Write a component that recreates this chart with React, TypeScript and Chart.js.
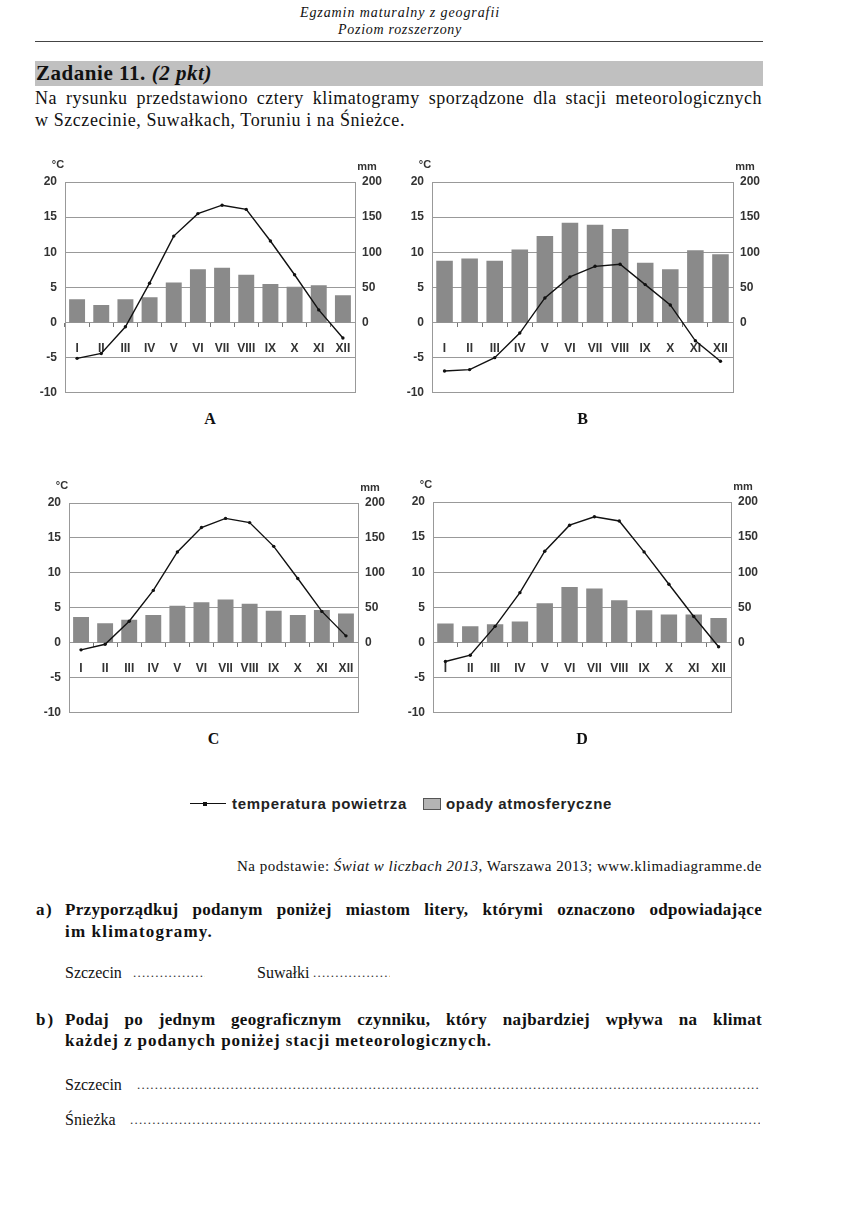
import React, { useEffect, useLayoutEffect, useRef } from "react";
import { Chart, registerables } from "chart.js";

Chart.register(...registerables);

const months = ["I", "II", "III", "IV", "V", "VI", "VII", "VIII", "IX", "X", "XI", "XII"];
const tempTicks = [-10, -5, 0, 5, 10, 15, 20];
const precipTicks = [0, 50, 100, 150, 200];

const tempA = [-5.1, -4.4, -0.6, 5.6, 12.3, 15.5, 16.7, 16.1, 11.6, 6.8, 1.8, -2.2];
const precipA = [33, 25, 33, 36, 57, 76, 78, 68, 55, 51, 53, 39];
const tempB = [-6.9, -6.7, -5.0, -1.5, 3.5, 6.5, 8.0, 8.3, 5.4, 2.5, -2.6, -5.5];
const precipB = [88, 91, 88, 104, 123, 142, 139, 133, 85, 76, 103, 97];
const tempC = [-1.0, -0.2, 3.1, 7.5, 13.0, 16.5, 17.8, 17.2, 13.8, 9.2, 4.5, 1.0];
const precipC = [37, 28, 33, 40, 53, 58, 62, 56, 46, 40, 47, 42];
const tempD = [-2.7, -1.8, 2.3, 7.1, 13.0, 16.7, 17.9, 17.3, 12.9, 8.3, 3.7, -0.6];
const precipD = [27, 23, 26, 30, 56, 79, 77, 60, 46, 40, 40, 35];

const serif = '"Liberation Serif", "Times New Roman", serif';
const sans = '"Liberation Sans", Arial, sans-serif';
const gridColor = "#999";
const tickFont = { family: sans, size: 12, weight: "bold" as const };
const tickColor = "#333";

type ClimProps = {
  plotLeft: number;
  plotRight: number;
  plotTop: number;
  plotBottom: number;
  temp: number[];
  precip: number[];
  letter: string;
};

function Climatogram({ plotLeft, plotRight, plotTop, plotBottom, temp, precip, letter }: ClimProps) {
  const ref = useRef<HTMLCanvasElement>(null);
  const padL = 40, padR = 40, padT = 24, padB = 8;
  const left = plotLeft - padL;
  const top = plotTop - padT;
  const width = Math.round(plotRight - plotLeft + padL + padR);
  const height = Math.round(plotBottom - plotTop + padT + padB);

  useEffect(() => {
    const chart = new Chart(ref.current!, {
      type: "bar",
      data: {
        labels: months,
        datasets: [
          {
            type: "line",
            data: temp,
            yAxisID: "y",
            borderColor: "#111",
            borderWidth: 1.4,
            pointRadius: 1.7,
            pointBackgroundColor: "#111",
            pointBorderWidth: 0,
            tension: 0,
            order: 0,
          } as any,
          {
            type: "bar",
            data: precip,
            yAxisID: "y2",
            backgroundColor: "#8a8a8a",
            barPercentage: 0.66,
            categoryPercentage: 1,
            order: 1,
          } as any,
        ],
      },
      options: {
        responsive: false,
        animation: false,
        layout: { padding: { top: padT, bottom: padB, left: 0, right: 0 } },
        plugins: { legend: { display: false }, tooltip: { enabled: false } },
        scales: {
          x: {
            position: { y: 0 } as any,
            offset: true,
            grid: { offset: true, drawOnChartArea: false, drawTicks: true, tickLength: 4, color: "#777" },
            border: { display: false },
            ticks: { padding: 15, font: tickFont, color: tickColor, maxRotation: 0, autoSkip: false },
          },
          y: {
            position: "left",
            min: -10,
            max: 20,
            afterBuildTicks: (s: any) => {
              s.ticks = tempTicks.map((v) => ({ value: v }));
            },
            afterFit: (s: any) => {
              s.width = padL;
            },
            grid: { color: gridColor, drawTicks: false },
            border: { color: gridColor },
            ticks: { padding: 8, font: tickFont, color: tickColor },
          },
          y2: {
            position: "right",
            min: -100,
            max: 200,
            afterBuildTicks: (s: any) => {
              s.ticks = precipTicks.map((v) => ({ value: v }));
            },
            afterFit: (s: any) => {
              s.width = padR;
            },
            grid: { display: false, drawTicks: false },
            border: { color: gridColor },
            ticks: { padding: 7, font: tickFont, color: tickColor },
          },
        } as any,
      },
    });
    return () => chart.destroy();
  }, []);

  return (
    <>
      <canvas
        ref={ref}
        width={width}
        height={height}
        style={{ position: "absolute", left, top, width, height }}
      />
      <div style={{ position: "absolute", left: plotLeft - 20, width: 26, top: plotTop - 24, textAlign: "center", fontFamily: sans, fontSize: 11, fontWeight: "bold", lineHeight: "13px", color: "#333" }}>°C</div>
      <div style={{ position: "absolute", left: plotRight - 2, width: 28, top: plotTop - 22, textAlign: "center", fontFamily: sans, fontSize: 11, fontWeight: "bold", lineHeight: "13px", color: "#333" }}>mm</div>
      <div style={{ position: "absolute", left: (plotLeft + plotRight) / 2 - 20, width: 40, top: plotBottom + 9, textAlign: "center", fontFamily: serif, fontSize: 16, fontWeight: "bold", lineHeight: "19px", color: "#111" }}>{letter}</div>
    </>
  );
}

type FitProps = { x: number; y: number; w: number; size: number; style?: React.CSSProperties; children: React.ReactNode };

function Fit({ x, y, w, size, style, children }: FitProps) {
  const ref = useRef<HTMLDivElement>(null);
  useLayoutEffect(() => {
    const el = ref.current!;
    el.style.letterSpacing = "0px";
    const natural = el.getBoundingClientRect().width;
    const n = (el.textContent || "").length;
    if (n > 0) el.style.letterSpacing = (w - natural) / n + "px";
  }, []);
  return (
    <div
      ref={ref}
      style={{ position: "absolute", left: x, top: y - size * 0.6, whiteSpace: "nowrap", fontSize: size, lineHeight: size * 1.2 + "px", ...style }}
    >
      {children}
    </div>
  );
}

type JustProps = { x: number; y: number; w: number; size: number; spacing?: number; style?: React.CSSProperties; children: React.ReactNode };

function Just({ x, y, w, size, spacing = 0, style, children }: JustProps) {
  return (
    <div
      style={{
        position: "absolute",
        left: x,
        top: y - size * 0.6,
        width: w,
        height: size * 1.2,
        overflow: "hidden",
        fontSize: size,
        lineHeight: size * 1.2 + "px",
        textAlign: "justify",
        textAlignLast: "justify",
        letterSpacing: spacing,
        ...style,
      }}
    >
      {children}
    </div>
  );
}

function Leader({ x, y, label, labelW, end, size }: { x: number; y: number; label: string; labelW: number; end: number; size: number }) {
  return (
    <div style={{ position: "absolute", left: x, top: y - size * 0.6, width: end - x, display: "flex", fontSize: size, lineHeight: size * 1.2 + "px", whiteSpace: "nowrap", overflow: "hidden" }}>
      <span style={{ display: "inline-block", width: labelW }}>{label}</span>
      <span style={{ flex: 1, overflow: "hidden", letterSpacing: 1.2, fontSize: size - 3, color: "#333" }}>{".".repeat(300)}</span>
    </div>
  );
}

export default function App() {
  return (
    <div style={{ position: "absolute", left: 0, top: 0, width: 852, height: 1208, background: "#fff", overflow: "hidden", fontFamily: serif, color: "#111" }}>
      <Fit x={300} y={13} w={200} size={14} style={{ fontStyle: "italic" }}>Egzamin maturalny z geografii</Fit>
      <Fit x={338} y={30} w={124} size={14} style={{ fontStyle: "italic" }}>Poziom rozszerzony</Fit>
      <div style={{ position: "absolute", left: 35, top: 41, width: 728, height: 1, background: "#444" }} />
      <div style={{ position: "absolute", left: 35, top: 61, width: 728, height: 25, background: "#c0c0c0" }} />
      <Fit x={36} y={74} w={176} size={21} style={{ fontWeight: "bold" }}>
        Zadanie 11. <i>(2 pkt)</i>
      </Fit>
      <Just x={35} y={99} w={727} size={18} spacing={0.5}>
        Na rysunku przedstawiono cztery klimatogramy sporządzone dla stacji meteorologicznych
      </Just>
      <Fit x={35} y={121} w={370} size={18}>w Szczecinie, Suwałkach, Toruniu i na Śnieżce.</Fit>

      <Climatogram plotLeft={65} plotRight={355} plotTop={182.3} plotBottom={400} temp={tempA} precip={precipA} letter="A" />
      <Climatogram plotLeft={432} plotRight={733} plotTop={182.3} plotBottom={400} temp={tempB} precip={precipB} letter="B" />
      <Climatogram plotLeft={69} plotRight={358} plotTop={503.3} plotBottom={720} temp={tempC} precip={precipC} letter="C" />
      <Climatogram plotLeft={433} plotRight={731} plotTop={501.7} plotBottom={720} temp={tempD} precip={precipD} letter="D" />

      <div style={{ position: "absolute", left: 190, top: 803, width: 36, height: 0, borderTop: "1.5px solid #111" }} />
      <div style={{ position: "absolute", left: 203, top: 802, width: 4, height: 4, background: "#111" }} />
      <Fit x={232} y={804} w={175} size={15} style={{ fontFamily: sans, fontWeight: "bold", color: "#222" }}>temperatura powietrza</Fit>
      <div style={{ position: "absolute", left: 423, top: 798, width: 16, height: 10, background: "#b4b4b4", border: "1px solid #555" }} />
      <Fit x={446} y={804} w={166} size={15} style={{ fontFamily: sans, fontWeight: "bold", color: "#222" }}>opady atmosferyczne</Fit>

      <Fit x={237} y={866} w={525} size={15}>
        Na podstawie: <i>Świat w liczbach 2013</i>, Warszawa 2013; www.klimadiagramme.de
      </Fit>

      <Fit x={36} y={910} w={17} size={17} style={{ fontWeight: "bold" }}>a)</Fit>
      <Just x={65} y={910} w={697} size={17} spacing={0.3} style={{ fontWeight: "bold" }}>
        Przyporządkuj podanym poniżej miastom litery, którymi oznaczono odpowiadające
      </Just>
      <Fit x={65} y={932} w={148} size={17} style={{ fontWeight: "bold" }}>im klimatogramy.</Fit>

      <Leader x={65} y={973} label="Szczecin" labelW={68} end={205} size={16} />
      <Leader x={257} y={973} label="Suwałki" labelW={56} end={390} size={16} />

      <Fit x={36} y={1020} w={19} size={17} style={{ fontWeight: "bold" }}>b)</Fit>
      <Just x={65} y={1020} w={697} size={17} spacing={0.3} style={{ fontWeight: "bold" }}>
        Podaj po jednym geograficznym czynniku, który najbardziej wpływa na klimat
      </Just>
      <Fit x={65} y={1041} w={427} size={17} style={{ fontWeight: "bold" }}>każdej z podanych poniżej stacji meteorologicznych.</Fit>

      <Leader x={65} y={1085} label="Szczecin" labelW={72} end={760} size={16} />
      <Leader x={65} y={1120} label="Śnieżka" labelW={65} end={760} size={16} />
    </div>
  );
}
